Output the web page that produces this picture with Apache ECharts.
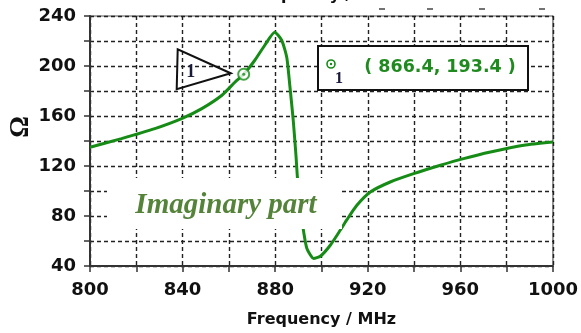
<!DOCTYPE html>
<html>
<head>
<meta charset="utf-8">
<script src="https://cdn.jsdelivr.net/npm/echarts@6/dist/echarts.min.js"></script>
<style>
  html, body { margin: 0; padding: 0; background: #ffffff; }
  #chart { width: 581px; height: 333px; }
</style>
</head>
<body>
<div id="chart"></div>
<script>
// Frequency sweep (MHz) and imaginary part of the impedance (Ohm)
const freq = [800, 813.6, 828, 839.6, 848.3, 857, 862.7, 866.4, 871.2, 875.5, 879.8,
  882.8, 885, 886.4, 887.8, 889, 889.6, 891, 892.3, 893.7, 896.6, 899.5, 903.8,
  908.1, 911, 915.3, 921.1, 929.7, 939.8, 951.4, 961.4, 973, 987.4, 1000];
const imag = [135, 141.9, 149.9, 157.9, 165.9, 176.6, 187.2, 193.4, 204.6, 216.6, 227,
  220.6, 207, 183, 156.6, 128, 111, 85, 67.3, 54, 46, 47.8, 56.6,
  68.6, 77.1, 88.6, 99.2, 107.2, 113.9, 120.6, 125.9, 131.2, 136.6, 139.2];

// Marker 1 readout
const markerId = '1';
const markerFreq = 866.4;
const markerVal = 193.4;

// Axis ticks
const xTicks = [800, 840, 880, 920, 960, 1000];
const yTicks = [40, 80, 120, 160, 200, 240];

const axisFont = { fontFamily: 'DejaVu Sans', fontWeight: 'bold', fontSize: 18, color: '#111' };
const gridDash = { color: '#222', width: 1.4, type: [4, 3] };
const curveColor = '#168c16';

const chart = echarts.init(document.getElementById('chart'), null, { renderer: 'canvas' });

chart.setOption({
  animation: false,
  backgroundColor: '#ffffff',
  grid: { left: 90, right: 28, top: 16, bottom: 67, show: true, borderColor: '#555', borderWidth: 1.2 },
  xAxis: {
    type: 'value', min: 800, max: 1000, interval: 20,
    name: 'Frequency / MHz', nameLocation: 'middle', nameGap: 46,
    nameTextStyle: { fontFamily: 'DejaVu Sans', fontWeight: 'bold', fontSize: 16, color: '#111' },
    axisLine: { lineStyle: { color: '#333', width: 2 } },
    axisTick: { show: true, length: 6, lineStyle: { color: '#333', width: 1.5 } },
    axisLabel: Object.assign({ margin: 15, formatter: v => xTicks.includes(v) ? String(v) : '' }, axisFont),
    splitLine: { show: true, lineStyle: gridDash }
  },
  yAxis: {
    type: 'value', min: 40, max: 240, interval: 20,
    axisLine: { show: true, lineStyle: { color: '#333', width: 2 } },
    axisTick: { show: true, length: 6, lineStyle: { color: '#333', width: 1.5 } },
    axisLabel: Object.assign({ margin: 14, formatter: v => yTicks.includes(v) ? String(v) : '' }, axisFont),
    splitLine: { show: true, lineStyle: gridDash }
  },
  series: [
    {
      type: 'line',
      data: freq.map((f, i) => [f, imag[i]]),
      showSymbol: false,
      smooth: 0.2,
      lineStyle: { color: curveColor, width: 3 },
      z: 5
    },
    {
      type: 'scatter',
      data: [[markerFreq, markerVal]],
      symbol: 'circle', symbolSize: 11,
      itemStyle: { color: '#ffffff', borderColor: curveColor, borderWidth: 2 },
      z: 6
    },
    {
      type: 'scatter',
      data: [[markerFreq, markerVal]],
      symbol: 'circle', symbolSize: 3,
      itemStyle: { color: curveColor },
      z: 7
    }
  ]
});

// Annotations: marker callout triangle, readout box, caption and axis symbol
const p = chart.convertToPixel({ gridIndex: 0 }, [markerFreq, markerVal]);
const readout = '( ' + markerFreq.toFixed(1) + ', ' + markerVal.toFixed(1) + ' )';

chart.setOption({
  graphic: [
    {
      type: 'polygon', z: 100,
      shape: { points: [[p[0] - 13, p[1] - 1], [p[0] - 66, p[1] - 25], [p[0] - 67, p[1] + 15]] },
      style: { fill: 'none', stroke: '#111', lineWidth: 2 }
    },
    {
      type: 'text', z: 101, x: p[0] - 53, y: p[1] - 2,
      style: { text: markerId, fill: '#1a1a3a', font: 'bold 18px "Liberation Serif"', align: 'center', verticalAlign: 'middle' }
    },
    {
      type: 'rect', z: 100,
      shape: { x: 318, y: 46, width: 210, height: 44 },
      style: { fill: '#ffffff', stroke: '#111', lineWidth: 2 }
    },
    {
      type: 'circle', z: 101,
      shape: { cx: 331, cy: 64, r: 4 },
      style: { fill: '#ffffff', stroke: curveColor, lineWidth: 1.6 }
    },
    {
      type: 'circle', z: 102,
      shape: { cx: 331, cy: 64, r: 1.2 },
      style: { fill: curveColor }
    },
    {
      type: 'text', z: 101, x: 339, y: 79,
      style: { text: markerId, fill: '#1a1a3a', font: 'bold 16px "Liberation Serif"', align: 'center', verticalAlign: 'middle' }
    },
    {
      type: 'text', z: 101, x: 440, y: 67,
      style: { text: readout, fill: '#1f8b1f', font: 'bold 17.5px "DejaVu Sans"', align: 'center', verticalAlign: 'middle' }
    },
    {
      type: 'rect', z: 100,
      shape: { x: 107, y: 178, width: 235, height: 51 },
      style: { fill: '#ffffff' }
    },
    {
      type: 'text', z: 101, x: 226, y: 206,
      style: { text: 'Imaginary part', fill: '#55833a', font: 'italic bold 29px "Liberation Serif"', align: 'center', verticalAlign: 'middle' }
    },
    {
      type: 'text', z: 101, x: 21, y: 127, rotation: Math.PI / 2,
      style: { text: 'Ω', fill: '#111', font: 'bold 27px "Liberation Serif"', align: 'center', verticalAlign: 'middle' }
    },
    {
      type: 'text', z: 101, x: 321, y: -4,
      style: { text: 'Frequency / MHz', fill: '#111', font: 'bold 16px "DejaVu Sans"', align: 'center', verticalAlign: 'middle' }
    },
    { type: 'line', z: 101, shape: { x1: 379, y1: 9, x2: 385, y2: 9 }, style: { stroke: '#444', lineWidth: 1.5 } },
    { type: 'line', z: 101, shape: { x1: 427, y1: 9, x2: 433, y2: 9 }, style: { stroke: '#444', lineWidth: 1.5 } },
    { type: 'line', z: 101, shape: { x1: 479, y1: 9, x2: 485, y2: 9 }, style: { stroke: '#444', lineWidth: 1.5 } },
    { type: 'line', z: 101, shape: { x1: 539, y1: 9, x2: 545, y2: 9 }, style: { stroke: '#444', lineWidth: 1.5 } }
  ]
});
</script>
</body>
</html>
